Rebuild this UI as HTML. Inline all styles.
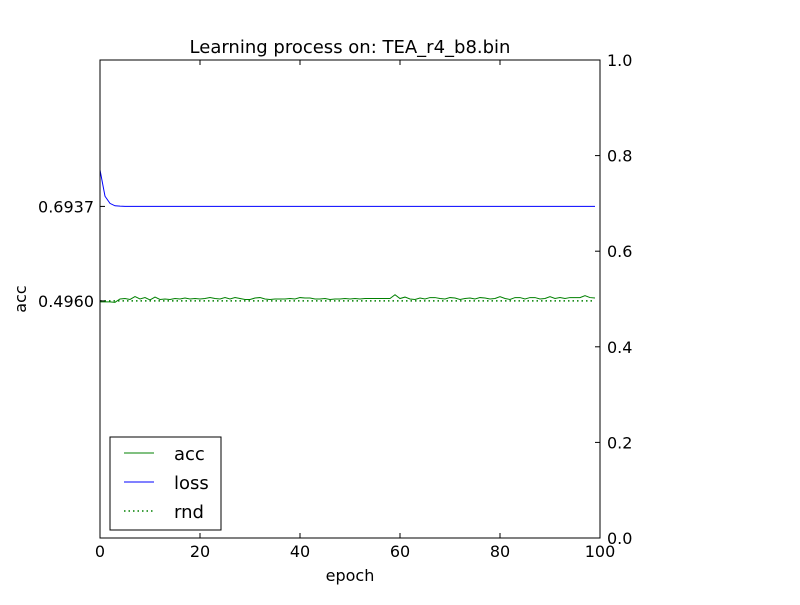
<!DOCTYPE html>
<html><head><meta charset="utf-8"><style>
body{margin:0;background:#fff;}
svg text{font-family:"DejaVu Sans","Liberation Sans",sans-serif;}
</style></head><body>
<svg id="chart" width="800" height="600" viewBox="0 0 800 600">
<rect width="800" height="600" fill="#fff"/>
<g id="plot"></g>
</svg>
<script>
const epochs = Array.from({length:100},(_,i)=>i);
const accValues = [0.494,0.494,0.494,0.493,0.500,0.501,0.499,0.505,0.500,0.503,0.498,0.504,0.499,0.500,0.499,0.501,0.500,0.502,0.500,0.501,0.500,0.501,0.503,0.501,0.500,0.503,0.500,0.503,0.501,0.499,0.499,0.502,0.503,0.500,0.499,0.500,0.500,0.500,0.501,0.500,0.503,0.502,0.502,0.500,0.500,0.501,0.499,0.500,0.500,0.501,0.500,0.501,0.500,0.501,0.501,0.501,0.501,0.501,0.501,0.509,0.501,0.504,0.500,0.499,0.502,0.500,0.503,0.503,0.501,0.500,0.503,0.502,0.499,0.501,0.502,0.500,0.503,0.502,0.500,0.501,0.505,0.501,0.499,0.503,0.503,0.500,0.503,0.503,0.500,0.501,0.505,0.501,0.503,0.501,0.503,0.503,0.503,0.507,0.503,0.502];
const lossValues = [0.77,0.715,0.700,0.695,0.6942].concat(Array(95).fill(0.6937));
const rndValue = 0.4960;
const leftTicks = [0.6937, 0.4960];
const rightTicks = [0, 0.2, 0.4, 0.6, 0.8, 1.0];
const xTicks = [0, 20, 40, 60, 80, 100];

const X0=100,X1=600,Y0=538,Y1=60;
const sx=v=>X0+(v/100)*(X1-X0);
const sy=v=>Y0-v*(Y0-Y1);
const NS="http://www.w3.org/2000/svg";
const g=document.getElementById('plot');
function mk(tag,attrs,parent){const e=document.createElementNS(NS,tag);for(const k in attrs)e.setAttribute(k,attrs[k]);(parent||g).appendChild(e);return e;}

const rnd=mk('line',{x1:sx(0),x2:sx(99),y1:sy(rndValue),y2:sy(rndValue),stroke:'#008000','stroke-width':1.5,'stroke-dasharray':'1.5,3'});



const accPath=mk('polyline',{points:epochs.map((e,i)=>sx(e)+','+sy(accValues[i])).join(' '),fill:'none',stroke:'#008000','stroke-width':1});


const lossPath=mk('polyline',{points:epochs.map((e,i)=>sx(e)+','+sy(lossValues[i])).join(' '),fill:'none',stroke:'#0000ff','stroke-width':1});



const frame=mk('rect',{x:X0,y:Y1,width:X1-X0,height:Y0-Y1,fill:'none',stroke:'#000','stroke-width':1});



xTicks.forEach(t=>{
  mk('line',{x1:sx(t),x2:sx(t),y1:Y0,y2:Y0-5,stroke:'#000'});
  mk('line',{x1:sx(t),x2:sx(t),y1:Y1,y2:Y1+5,stroke:'#000'});
  const tx=mk('text',{x:sx(t),y:Y0+19,'text-anchor':'middle','font-size':16});
  tx.textContent=t;
  
  
});
rightTicks.forEach(t=>{
  mk('line',{x1:X1,x2:X1-5,y1:sy(t),y2:sy(t),stroke:'#000'});
  const tx=mk('text',{x:X1+7,y:sy(t)+6,'font-size':16});
  tx.textContent=t.toFixed(1);
  
  
});
leftTicks.forEach(t=>{
  mk('line',{x1:X0,x2:X0+5,y1:sy(t),y2:sy(t),stroke:'#000'});
  const tx=mk('text',{x:X0-6,y:sy(t)+6,'text-anchor':'end','font-size':16});
  tx.textContent=t.toFixed(4);
  
  
});
</script>
<svg style="position:absolute;left:0;top:0" width="800" height="600">
<text x="350" y="53" text-anchor="middle" font-size="18">Learning process on: TEA_r4_b8.bin</text>
<text x="350" y="581" text-anchor="middle" font-size="16">epoch</text>
<text transform="translate(26,299) rotate(-90)" text-anchor="middle" font-size="16">acc</text>
<g>
<rect x="110" y="437" width="111" height="93" fill="#fff" stroke="#000"/>
<line x1="124" x2="154" y1="453" y2="453" stroke="#008000"/>
<text x="174" y="460" font-size="18">acc</text>
<line x1="124" x2="154" y1="482" y2="482" stroke="#0000ff"/>
<text x="174" y="489" font-size="18">loss</text>
<line x1="124" x2="154" y1="511" y2="511" stroke="#008000" stroke-width="1.5" stroke-dasharray="1.5,3"/>
<text x="174" y="518" font-size="18">rnd</text>
</g>
</svg>
</body></html>
